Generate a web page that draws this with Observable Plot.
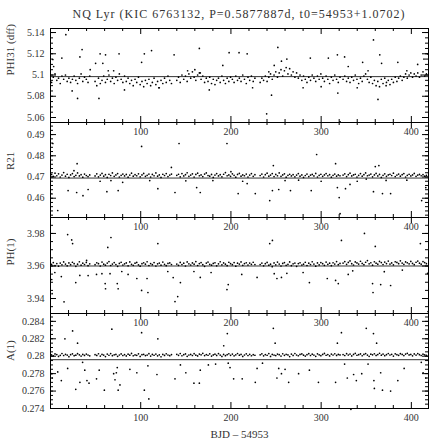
<!DOCTYPE html>
<html><head><meta charset="utf-8">
<script src="https://cdn.jsdelivr.net/npm/d3@7"></script>
<script src="https://cdn.jsdelivr.net/npm/@observablehq/plot@0.6"></script>
<style>
body{margin:0;background:#fff;}
#chart{position:relative;width:436px;height:443px;font-family:"Liberation Serif",serif;}
#chart svg{position:absolute;left:0;overflow:visible;}
#title{position:absolute;top:7px;left:50px;width:378px;text-align:center;font-size:12px;letter-spacing:1px;color:#333;line-height:14px;white-space:nowrap;}
</style></head><body>
<div id="chart"><div id="title">NQ Lyr (KIC 6763132, P=0.5877887d, t0=54953+1.0702)</div></div>
<script>
// Observation times (BJD - 54953), shared by all band series
const times = [
1.2,3.1,5.0,7.0,8.9,10.8,12.7,14.6,16.6,18.5,20.4,22.3,24.3,26.2,28.1,30.0,32.0,33.9,35.8,37.7,39.7,41.6,43.5,
49.4,51.3,53.2,55.2,57.1,59.0,60.9,62.9,64.8,66.7,68.6,70.6,72.5,74.4,76.3,78.3,80.2,82.1,84.0,86.0,87.9,89.8,91.7,93.7,95.6,97.5,99.4,101.4,103.3,105.2,107.1,109.1,111.0,112.9,114.8,116.8,118.7,120.6,122.5,124.5,126.4,128.3,130.2,132.2,134.1,
140.0,141.9,143.8,145.7,147.7,149.6,151.5,153.4,155.4,157.3,159.2,161.1,163.1,165.0,166.9,168.8,170.8,172.7,174.6,176.5,178.5,180.4,182.3,184.2,186.2,188.1,190.0,191.9,193.9,195.8,197.7,199.6,201.6,203.5,205.4,207.3,209.3,211.2,213.1,215.0,217.0,218.9,220.8,222.7,224.7,226.6,
232.4,234.3,236.2,238.1,240.1,242.0,243.9,245.8,247.8,249.7,251.6,253.5,255.5,257.4,259.3,261.2,263.2,265.1,267.0,268.9,270.9,272.8,274.7,276.6,278.6,280.5,282.4,284.3,286.3,288.2,290.1,292.0,294.0,295.9,297.8,299.7,301.7,303.6,305.5,307.4,309.4,311.3,313.2,315.1,317.1,319.0,320.9,
324.3,326.2,328.2,330.1,332.0,333.9,335.9,337.8,339.7,341.6,343.6,345.5,347.4,349.3,351.3,353.2,355.1,357.0,359.0,360.9,362.8,364.7,366.7,368.6,370.5,372.4,374.4,376.3,378.2,380.1,382.1,384.0,385.9,387.8,389.8,391.7,393.6,395.5,397.5,399.4,401.3,403.2,405.2,407.1,409.0,410.9,412.9,414.8,416.7];

const phi31Band = [
5.093,5.098,5.101,5.095,5.097,5.092,5.099,5.096,5.100,5.094,5.097,5.093,5.096,5.099,5.095,5.092,5.097,5.101,5.094,5.098,5.096,5.093,5.099,
5.094,5.090,5.097,5.092,5.095,5.099,5.093,5.096,5.100,5.094,5.097,5.092,5.098,5.095,5.101,5.096,5.093,5.099,5.094,5.097,5.092,5.095,5.090,5.096,5.093,5.098,5.091,5.094,5.089,5.095,5.092,5.096,5.090,5.093,5.097,5.091,5.094,5.088,5.095,5.092,5.097,5.093,5.099,5.095,5.092,
5.095,5.098,5.093,5.100,5.096,5.099,5.094,5.101,5.097,5.103,5.098,5.095,5.100,5.102,5.096,5.099,5.093,5.097,5.094,5.098,5.092,5.096,5.091,5.095,5.097,5.093,5.099,5.095,5.092,5.097,5.094,5.098,5.096,5.093,5.099,5.095,5.097,5.094,5.100,5.096,5.092,5.098,5.095,5.099,5.094,5.097,
5.093,5.097,5.095,5.099,5.094,5.098,5.101,5.096,5.100,5.103,5.098,5.102,5.105,5.099,5.104,5.107,5.101,5.106,5.100,5.103,5.098,5.102,5.097,5.100,5.095,5.099,5.096,5.093,5.098,5.095,5.100,5.097,5.094,5.099,5.096,5.101,5.097,5.094,5.099,5.096,5.092,5.098,5.095,5.100,5.096,5.093,5.098,
5.096,5.099,5.094,5.097,5.093,5.098,5.095,5.100,5.096,5.092,5.097,5.094,5.099,5.101,5.096,5.093,5.098,5.092,5.095,5.090,5.094,5.089,5.096,5.092,5.097,5.093,5.095,5.091,5.096,5.093,5.098,5.094,5.097,5.099,5.095,5.098,5.101,5.097,5.100,5.102,5.098,5.101,5.099,5.102,5.098,5.100,5.103,5.099,5.101];
const phi31OutX = [2.6,3.5,12.6,17,24,30,32.6,35,44,50,53.7,55,58,61,64,70,76,82,101,104,112,120,137,152,160,165,166,176,191,198,209,218,224,239.6,242,245,248,252,256,262,280,288,300,308,318,318.5,321,326,330,340,346,352,358,363,365,367,372,385,395,407,414,418];
const phi31OutY = [5.1146,5.108,5.116,5.138,5.085,5.078,5.117,5.124,5.105,5.111,5.078,5.120,5.111,5.119,5.104,5.104,5.120,5.086,5.112,5.120,5.123,5.088,5.119,5.104,5.105,5.125,5.102,5.086,5.109,5.121,5.121,5.120,5.088,5.0635,5.103,5.081,5.109,5.126,5.113,5.115,5.088,5.116,5.089,5.116,5.119,5.083,5.056,5.117,5.108,5.088,5.112,5.104,5.133,5.077,5.119,5.111,5.090,5.112,5.104,5.110,5.115,5.120];

const r21Band = [
0.4712,0.4703,0.4718,0.4706,0.4715,0.4700,0.4709,0.4721,0.4704,0.4713,0.4698,0.4710,0.4716,0.4702,0.4708,0.4719,0.4705,0.4711,0.4699,0.4714,0.4707,0.4702,0.4710,
0.4705,0.4715,0.4701,0.4709,0.4717,0.4704,0.4711,0.4698,0.4713,0.4707,0.4719,0.4703,0.4710,0.4716,0.4700,0.4708,0.4714,0.4705,0.4712,0.4699,0.4709,0.4718,0.4704,0.4711,0.4706,0.4715,0.4701,0.4710,0.4717,0.4703,0.4708,0.4714,0.4700,0.4712,0.4706,0.4719,0.4704,0.4710,0.4698,0.4713,0.4707,0.4716,0.4702,0.4709,0.4714,
0.4708,0.4713,0.4701,0.4716,0.4705,0.4711,0.4720,0.4703,0.4709,0.4715,0.4700,0.4712,0.4718,0.4706,0.4710,0.4702,0.4714,0.4719,0.4707,0.4704,0.4712,0.4698,0.4709,0.4716,0.4705,0.4711,0.4701,0.4713,0.4721,0.4706,0.4710,0.4703,0.4715,0.4708,0.4699,0.4712,0.4717,0.4704,0.4710,0.4706,0.4714,0.4700,0.4709,0.4716,0.4703,0.4711,
0.4707,0.4714,0.4700,0.4711,0.4718,0.4704,0.4709,0.4716,0.4702,0.4712,0.4706,0.4719,0.4703,0.4710,0.4715,0.4699,0.4708,0.4713,0.4705,0.4711,0.4701,0.4709,0.4716,0.4704,0.4710,0.4698,0.4707,0.4714,0.4702,0.4709,0.4712,0.4705,0.4717,0.4700,0.4708,0.4713,0.4703,0.4710,0.4716,0.4706,0.4711,0.4699,0.4708,0.4714,0.4704,0.4710,0.4706,
0.4709,0.4715,0.4702,0.4711,0.4718,0.4705,0.4710,0.4713,0.4700,0.4708,0.4716,0.4704,0.4711,0.4719,0.4706,0.4709,0.4714,0.4701,0.4710,0.4717,0.4705,0.4712,0.4698,0.4708,0.4715,0.4703,0.4710,0.4713,0.4707,0.4718,0.4702,0.4709,0.4714,0.4704,0.4711,0.4716,0.4700,0.4708,0.4713,0.4705,0.4710,0.4717,0.4703,0.4709,0.4712,0.4706,0.4711,0.4704,0.4708];
const r21OutX = [0.3,2.6,8,19.5,26,29.5,29,36,41.7,55,62.5,67,75,80,101,110,119,134,138,142.5,150,162,166,180,195.6,200,208,213,218,227,243,246,247,253,260,266,275,289,295,300,316,318,320,321,327,332,340,350,358,360,364,368,372,377,395,411.4,416];
const r21OutY = [0.4622,0.4858,0.4542,0.4636,0.4730,0.4763,0.4627,0.4612,0.4641,0.4680,0.4631,0.4683,0.4636,0.4675,0.4844,0.4683,0.4645,0.4745,0.4627,0.4858,0.4682,0.4650,0.4627,0.4683,0.4858,0.4725,0.4622,0.4680,0.4669,0.4622,0.4589,0.4636,0.4754,0.4641,0.4683,0.4636,0.4685,0.4636,0.4806,0.4680,0.4763,0.4650,0.4603,0.4527,0.4645,0.4665,0.4680,0.4690,0.4631,0.4749,0.4754,0.4622,0.4684,0.4622,0.4685,0.4589,0.4650];

const ph1Band = [
3.9610,3.9621,3.9603,3.9615,3.9599,3.9618,3.9607,3.9625,3.9612,3.9601,3.9619,3.9608,3.9623,3.9614,3.9598,3.9611,3.9626,3.9605,3.9617,3.9609,3.9622,3.9602,3.9613,
3.9608,3.9620,3.9614,3.9600,3.9624,3.9611,3.9605,3.9618,3.9627,3.9603,3.9612,3.9621,3.9609,3.9598,3.9616,3.9623,3.9606,3.9613,3.9619,3.9601,3.9625,3.9610,3.9604,3.9617,3.9622,3.9607,3.9599,3.9614,3.9620,3.9611,3.9626,3.9603,3.9615,3.9608,3.9621,3.9600,3.9613,3.9618,3.9605,3.9624,3.9610,3.9602,3.9616,3.9619,3.9609,
3.9612,3.9604,3.9622,3.9609,3.9617,3.9600,3.9625,3.9613,3.9606,3.9619,3.9611,3.9627,3.9603,3.9615,3.9621,3.9608,3.9598,3.9618,3.9624,3.9610,3.9605,3.9616,3.9620,3.9601,3.9613,3.9626,3.9607,3.9619,3.9611,3.9602,3.9623,3.9614,3.9608,3.9621,3.9599,3.9617,3.9612,3.9625,3.9604,3.9615,3.9620,3.9606,3.9618,3.9610,3.9623,3.9609,
3.9609,3.9618,3.9601,3.9614,3.9622,3.9605,3.9611,3.9596,3.9619,3.9607,3.9624,3.9612,3.9600,3.9616,3.9621,3.9604,3.9610,3.9625,3.9602,3.9613,3.9618,3.9598,3.9615,3.9620,3.9606,3.9611,3.9623,3.9603,3.9617,3.9609,3.9626,3.9612,3.9599,3.9619,3.9607,3.9621,3.9614,3.9604,3.9624,3.9610,3.9617,3.9602,3.9620,3.9612,3.9627,3.9608,3.9616,
3.9618,3.9627,3.9610,3.9622,3.9631,3.9614,3.9606,3.9625,3.9619,3.9612,3.9629,3.9616,3.9608,3.9623,3.9633,3.9613,3.9620,3.9605,3.9626,3.9617,3.9611,3.9628,3.9621,3.9609,3.9624,3.9615,3.9630,3.9612,3.9619,3.9607,3.9626,3.9622,3.9614,3.9632,3.9618,3.9610,3.9625,3.9620,3.9613,3.9628,3.9616,3.9608,3.9623,3.9630,3.9617,3.9611,3.9627,3.9621,3.9614];
const ph1OutX = [1.4,1.8,4.8,12,15,19,23.5,24.5,28,32.5,40,41.7,51,57,60.6,61,63.5,66,67,74,75,79,86,95.7,101,107,108,119,130,136,138,141,144,159,166,178,195.6,197,212,229,243,246,248,251,256,262,280,287,306.8,316,319,322.5,330,335,348,357,357.5,360,366,370,377,390,410,418,418.5];
const ph1OutY = [3.9517,3.943,3.956,3.9535,3.938,3.9793,3.976,3.9738,3.9498,3.9542,3.9634,3.9541,3.9548,3.9553,3.9492,3.946,3.9714,3.9553,3.9775,3.9492,3.946,3.9566,3.9548,3.9523,3.945,3.9523,3.9437,3.9738,3.9566,3.9529,3.9381,3.9412,3.9498,3.9566,3.953,3.9560,3.9455,3.9486,3.9548,3.9530,3.9738,3.9757,3.9553,3.9523,3.9530,3.9555,3.9560,3.9498,3.9523,3.9511,3.9492,3.9757,3.9548,3.9570,3.98,3.9492,3.9437,3.972,3.9486,3.9565,3.948,3.9575,3.9738,3.9554,3.932];

const a1Band = [
0.28015,0.28003,0.28026,0.28019,0.27998,0.28010,0.28031,0.28008,0.28022,0.28013,0.27995,0.28018,0.28027,0.28006,0.28012,0.28029,0.28016,0.28001,0.28021,0.28009,0.28024,0.28014,0.28004,
0.28017,0.28009,0.28028,0.28002,0.28020,0.28013,0.27996,0.28024,0.28011,0.28030,0.28006,0.28016,0.28021,0.27999,0.28014,0.28026,0.28008,0.28019,0.28003,0.28023,0.28012,0.28032,0.28005,0.28015,0.28010,0.28027,0.27997,0.28018,0.28022,0.28007,0.28013,0.28029,0.28001,0.28020,0.28011,0.28025,0.28004,0.28016,0.27994,0.28021,0.28009,0.28028,0.28014,0.28006,0.28019,
0.28022,0.28010,0.28031,0.28005,0.28017,0.28026,0.27999,0.28014,0.28020,0.28008,0.28029,0.28012,0.28003,0.28024,0.28016,0.28033,0.28007,0.28019,0.28011,0.28027,0.28001,0.28015,0.28023,0.28009,0.28030,0.28013,0.27997,0.28021,0.28006,0.28018,0.28028,0.28010,0.28025,0.28004,0.28016,0.28031,0.28012,0.28020,0.27998,0.28014,0.28027,0.28008,0.28022,0.28005,0.28018,0.28011,
0.28016,0.28027,0.28004,0.28019,0.28011,0.28030,0.27998,0.28021,0.28013,0.28007,0.28025,0.28017,0.28002,0.28028,0.28010,0.28022,0.28015,0.27996,0.28024,0.28009,0.28031,0.28014,0.28005,0.28020,0.28026,0.28012,0.28001,0.28018,0.28029,0.28008,0.28023,0.28013,0.27999,0.28027,0.28016,0.28006,0.28021,0.28032,0.28011,0.28019,0.28003,0.28024,0.28014,0.28028,0.28009,0.28020,0.28015,
0.28019,0.28008,0.28029,0.28014,0.28024,0.28003,0.28021,0.28033,0.28011,0.28017,0.28026,0.28005,0.28020,0.28030,0.28013,0.27999,0.28023,0.28016,0.28028,0.28009,0.28019,0.28034,0.28012,0.28025,0.28006,0.28018,0.28031,0.28014,0.28022,0.28002,0.28027,0.28017,0.28010,0.28029,0.28021,0.28007,0.28024,0.28033,0.28015,0.28020,0.28004,0.28026,0.28013,0.28030,0.28018,0.28008,0.28023,0.28016,0.28011];
const a1OutX = [1.4,2,8,12,16,19,24.5,28,30,32.6,35.6,38,40.4,42.7,51,54,59.7,68,70,71.5,73,74,75,77,88,95.7,101,104,108,109,119,118,138,144,150,159,165,166,175,183,192,196,197,199,203,212.5,227,229,235,247,249,251,253,256,260,264,275,287,297,316,318,322.5,326,329,333,336,339,345,350,352,358,361.5,358.5,359,366,368,377,385,392,411,413,416];
const a1OutY = [0.2780,0.2775,0.2782,0.2772,0.2820,0.2786,0.2829,0.2762,0.2815,0.2770,0.2793,0.2784,0.2772,0.2769,0.2774,0.2784,0.2761,0.2831,0.2780,0.2773,0.2781,0.2787,0.2761,0.2767,0.2785,0.2781,0.2827,0.2761,0.2789,0.2751,0.2820,0.2779,0.2774,0.2790,0.2781,0.2769,0.2769,0.2784,0.2790,0.2791,0.2812,0.2826,0.2792,0.2787,0.2774,0.2774,0.2770,0.2786,0.2792,0.2832,0.2815,0.2775,0.2786,0.2780,0.2785,0.2770,0.2780,0.2784,0.2770,0.2770,0.2815,0.2827,0.2791,0.2775,0.2739,0.2779,0.2772,0.2780,0.2832,0.2791,0.2826,0.2815,0.2772,0.2763,0.2781,0.2761,0.2760,0.2772,0.2786,0.2793,0.2781,0.2775];

// Axis definitions
const xDomain = [0, 419];
const xMajorTicks = [100, 200, 300, 400];
const xMinorTicks = [20,40,60,80,120,140,160,180,220,240,260,280,320,340,360,380];
const yLabels = ["PHI31 (dff)", "R21", "PH(1)", "A(1)"];
const yDomains = [[5.0553, 5.1438], [0.4509, 0.4957], [3.9308, 3.9898], [0.2740, 0.2849]];
const meanLevels = [5.0985, 0.4695, 3.9600, 0.2796];
const yMajorTicks = [[5.06,5.08,5.1,5.12,5.14],[0.46,0.47,0.48,0.49],[3.94,3.96,3.98],[0.274,0.276,0.278,0.28,0.282,0.284]];
const yMinorSteps = [0.005, 0.002, 0.005, 0.0005];
const xTitle = "BJD \u2013 54953";

const bands = [phi31Band, r21Band, ph1Band, a1Band];
const outX = [phi31OutX, r21OutX, ph1OutX, a1OutX];
const outY = [phi31OutY, r21OutY, ph1OutY, a1OutY];
const panelTops = [28, 122, 217, 313];
const panelHeights = [94, 95, 96, 95];

const chart = document.getElementById("chart");
const W = 436, ML = 50, MR = 8, PW = W - ML - MR;
const font = "Liberation Serif, serif";
const textColor = "#333";

for (let i = 0; i < 4; i++) {
  const H = panelHeights[i];
  const last = i === 3;
  const mt = 8, mb = last ? 40 : 8;
  const dom = yDomains[i];
  const band = times.slice(0, bands[i].length).map((t, k) => ({t, v: bands[i][k]}));
  const outs = outX[i].map((t, k) => ({t, v: outY[i][k]}));
  const step = yMinorSteps[i];
  const yMinor = d3.range(Math.ceil(dom[0] / step - 1e-6), Math.floor(dom[1] / step + 1e-6) + 1).map(k => +(k * step).toFixed(6));
  const marks = [
    Plot.ruleY([meanLevels[i]], {stroke: "#333", strokeWidth: 1}),
    Plot.dot(band, {x: "t", y: "v", r: 0.85, fill: "#000", stroke: null}),
    Plot.dot(outs, {x: "t", y: "v", r: 0.85, fill: "#000", stroke: null}),
    Plot.tickX(xMinorTicks, {x: d => d, insetTop: H - 3, stroke: "#000"}),
    Plot.tickX(xMinorTicks, {x: d => d, insetBottom: H - 3, stroke: "#000"}),
    Plot.tickX(xMajorTicks, {x: d => d, insetTop: H - 6, stroke: "#000"}),
    Plot.tickX(xMajorTicks, {x: d => d, insetBottom: H - 6, stroke: "#000"}),
    Plot.tickY(yMinor, {y: d => d, insetRight: PW - 3, stroke: "#000"}),
    Plot.tickY(yMinor, {y: d => d, insetLeft: PW - 3, stroke: "#000"}),
    Plot.tickY(yMajorTicks[i], {y: d => d, insetRight: PW - 6, stroke: "#000"}),
    Plot.tickY(yMajorTicks[i], {y: d => d, insetLeft: PW - 6, stroke: "#000"}),
    Plot.frame({stroke: "#000", strokeWidth: 1}),
    Plot.text(yMajorTicks[i], {y: d => d, frameAnchor: "left", dx: -6, textAnchor: "end", text: d => String(d), fontSize: 10, fill: textColor, fontFamily: font}),
    Plot.text([yLabels[i]], {frameAnchor: "left", rotate: -90, dx: -40, text: d => d, fontSize: 11, fill: textColor, fontFamily: font})
  ];
  if (i > 0) {
    marks.push(Plot.text(xMajorTicks, {x: d => d, frameAnchor: "top", dy: 5, text: d => String(d), fontSize: 10, fill: textColor, fontFamily: font}));
  }
  if (last) {
    marks.push(Plot.text(xMajorTicks, {x: d => d, frameAnchor: "bottom", dy: 12, text: d => String(d), fontSize: 10, fill: textColor, fontFamily: font}));
    marks.push(Plot.text([xTitle], {frameAnchor: "bottom", dy: 29, text: d => d, fontSize: 11, fill: textColor, fontFamily: font, letterSpacing: "1px"}));
  }
  const svg = Plot.plot({
    width: W, height: H + mt + mb,
    marginLeft: ML, marginRight: MR, marginTop: mt, marginBottom: mb,
    x: {domain: xDomain, axis: null},
    y: {domain: dom, axis: null},
    style: {background: "transparent", overflow: "visible", fontFamily: font},
    marks
  });
  svg.style.top = (panelTops[i] - mt) + "px";
  chart.appendChild(svg);
}
</script>
</body></html>
